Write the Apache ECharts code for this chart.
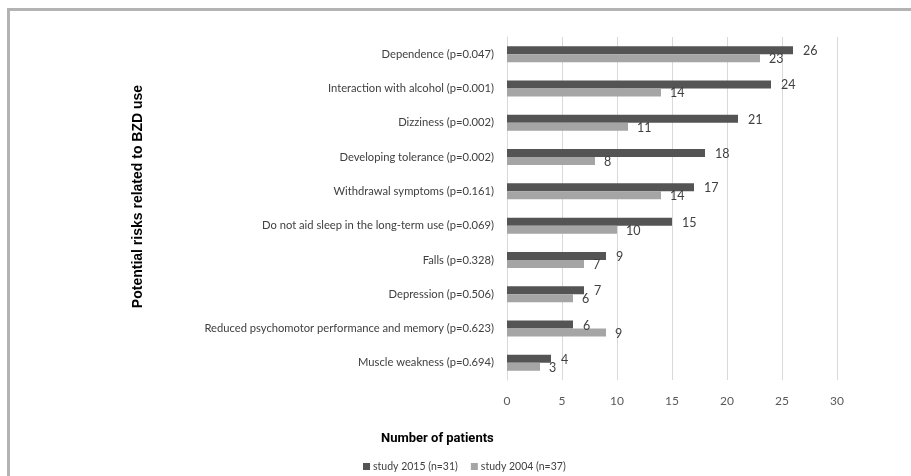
<!DOCTYPE html>
<html>
<head>
<meta charset="utf-8">
<script src="https://cdn.jsdelivr.net/npm/echarts@6/dist/echarts.min.js"></script>
<style>
html,body{margin:0;padding:0;background:#fff;}
#c{width:911px;height:476px;}
</style>
</head>
<body>
<div id="c"></div>
<script>
const categories = [
  "Dependence (p=0.047)",
  "Interaction with alcohol (p=0.001)",
  "Dizziness (p=0.002)",
  "Developing tolerance (p=0.002)",
  "Withdrawal symptoms (p=0.161)",
  "Do not aid sleep in the long-term use (p=0.069)",
  "Falls (p=0.328)",
  "Depression (p=0.506)",
  "Reduced psychomotor performance and memory (p=0.623)",
  "Muscle weakness (p=0.694)"
];
const study2015 = [26, 24, 21, 18, 17, 15, 9, 7, 6, 4];
const study2004 = [23, 14, 11, 8, 14, 10, 7, 6, 9, 3];
const seriesNames = ["study 2015 (n=31)", "study 2004 (n=37)"];
const xTicks = [0, 5, 10, 15, 20, 25, 30];

const font = "Lato, 'Open Sans', sans-serif";
const chart = echarts.init(document.getElementById('c'), null, {renderer: 'canvas'});
chart.setOption({
  animation: false,
  backgroundColor: '#fff',
  graphic: [
    {type: 'rect', shape: {x: 8.5, y: 9.5, width: 920, height: 480}, style: {fill: 'none', stroke: '#b3b3b3', lineWidth: 3}}
  ],
  title: {
    text: 'Number of patients', left: 376, top: 427,
    textStyle: {fontFamily: "Roboto, 'Liberation Sans', sans-serif", fontSize: 13, fontWeight: 'bold', color: '#000'}
  },
  grid: {left: 507, top: 37, width: 330, height: 343},
  legend: {
    data: seriesNames,
    left: 358, top: 456,
    itemWidth: 7, itemHeight: 7, itemGap: 13,
    icon: 'rect',
    textStyle: {fontFamily: font, fontSize: 10.5, color: '#404040', padding: [0, 0, 0, -2]}
  },
  xAxis: {
    type: 'value', min: xTicks[0], max: xTicks[xTicks.length - 1], interval: 5,
    axisLine: {show: false}, axisTick: {show: false},
    axisLabel: {fontFamily: font, fontSize: 12, color: '#595959', margin: 15},
    splitLine: {lineStyle: {color: '#d9d9d9', width: 1}}
  },
  yAxis: {
    type: 'category', data: categories, inverse: true,
    name: 'Potential risks related to BZD use', nameLocation: 'middle', nameGap: 362,
    nameTextStyle: {fontFamily: "'Liberation Sans', Arial, sans-serif", fontSize: 14, fontWeight: 'bold', color: '#000', padding: [0, 0, 0, 24]},
    axisLine: {show: true, lineStyle: {color: '#d9d9d9'}}, axisTick: {show: false},
    axisLabel: {fontFamily: font, fontSize: 11.2, color: '#404040', margin: 13}
  },
  series: [
    {
      name: seriesNames[0], type: 'bar', data: study2015, barWidth: 8, barGap: '0%',
      itemStyle: {color: '#545454'},
      label: {show: true, position: 'right', distance: 10, fontFamily: font, fontSize: 12.5, color: '#404040', offset: [0, 1]}
    },
    {
      name: seriesNames[1], type: 'bar', data: study2004, barWidth: 8, barGap: '0%',
      itemStyle: {color: '#a5a5a5'},
      label: {show: true, position: 'right', distance: 9, fontFamily: font, fontSize: 12.5, color: '#404040', offset: [0, 1]}
    }
  ]
});
</script>
</body>
</html>
